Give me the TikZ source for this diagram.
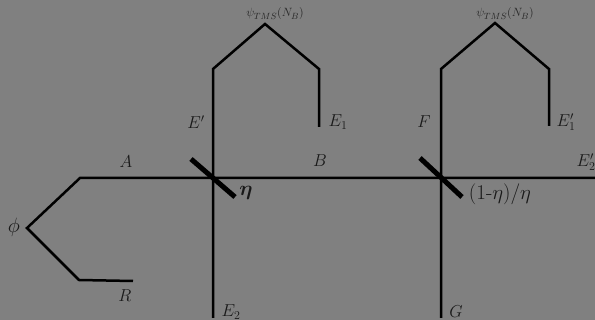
\documentclass[tikz,border=0pt]{standalone}
\usepackage{amsmath,amssymb,bm}
\usepackage{tikz}
\usetikzlibrary{positioning,calc}
\definecolor{bggray}{gray}{0.5}
\tikzset{
beam/.style={draw=black,line width=2.5pt,line join=miter},
splitter/.style={draw=black,line width=5pt},
lab/.style={font=\fontsize{16.5}{18}\selectfont,inner sep=0pt,text=black!90},
biglab/.style={font=\fontsize{21}{23}\selectfont,inner sep=0pt,text=black!90},
statelab/.style={font=\fontsize{13}{15}\selectfont,inner sep=0pt,text=black!85}
}
\begin{document}
\begin{tikzpicture}[x=1pt,y=-1pt]
\fill[bggray] (0,0) rectangle (595,320);
\useasboundingbox (0,0) rectangle (595,320);
% points of the beams
\coordinate (src) at (27,228);
\coordinate (cornerA) at (80,178);
\coordinate (cornerR) at (79,280);
\coordinate (endR) at (133,281);
\coordinate (bsA) at (213,178);
\coordinate (bsB) at (441,178);
\coordinate (endE2p) at (595,178);
\coordinate (endE2) at (213,318);
\coordinate (endG) at (441,318);
\coordinate (shL) at (213,69);
\coordinate (topL) at (265,24);
\coordinate (shLr) at (319,69);
\coordinate (endE1) at (319,127);
\coordinate (shR) at (441,69);
\coordinate (topR) at (495,23);
\coordinate (shRr) at (549,69);
\coordinate (endE1p) at (549,126);
\coordinate (barAa) at (191,159);
\coordinate (barAb) at (235,197);
\coordinate (barBa) at (420,158);
\coordinate (barBb) at (462,197);
\draw[beam] (endR) -- (cornerR) -- (src) -- (cornerA) -- (bsA) -- (bsB) -- (endE2p);
\draw[beam] (endE2) -- (shL) -- (topL) -- (shLr) -- (endE1);
\draw[beam] (endG) -- (shR) -- (topR) -- (shRr) -- (endE1p);
\draw[splitter] (barAa) -- (barAb);
\draw[splitter] (barBa) -- (barBb);
% labels
\node[statelab] (psiL) at (275,14) {$\psi_{TMS}(N_B)$};
\node[statelab] (psiR) at (505,14) {$\psi_{TMS}(N_B)$};
\node[lab] (labA) at (126,162) {$A$};
\node[lab] (labB) at (320,161) {$B$};
\node[lab] (labEp) at (196,122) {$E'$};
\node[lab] (labEa) at (338,122) {$E_1$};
\node[lab] (labF) at (424,122) {$F$};
\node[lab] (labEap) at (566,122) {$E_1'$};
\node[lab] (labEbp) at (586,162) {$E_2'$};
\node[biglab] (labEta) at (246,193) {$\bm{\eta}$};
\node[biglab] (labFrac) at (500,194) {(1-$\eta$)/$\eta$};
\node[biglab] (labPhi) at (14,227) {$\phi$};
\node[lab] (labR) at (125,296) {$R$};
\node[lab] (labEb) at (231,312) {$E_2$};
\node[lab] (labG) at (456,312) {$G$};
\end{tikzpicture}
\end{document}
